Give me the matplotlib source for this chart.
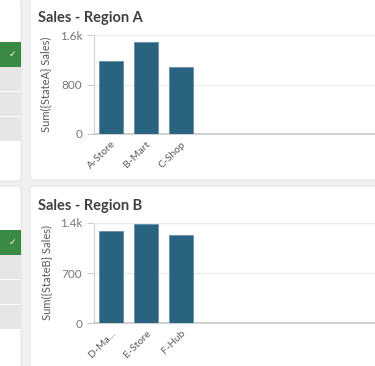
import matplotlib.pyplot as plt
from matplotlib.patches import FancyBboxPatch, Rectangle

# --- data ---
stores_a = ["A-Store", "B-Mart", "C-Shop"]
sales_a = [1180, 1490, 1085]
ticks_a = [0, 800, 1600]
ticklabels_a = ["0", "800", "1.6k"]

stores_b = ["D-Ma...", "E-Store", "F-Hub"]
sales_b = [1290, 1385, 1235]
ticks_b = [0, 700, 1400]
ticklabels_b = ["0", "700", "1.4k"]

W, H = 375, 366
BAR = "#29637f"
TXT = "#595959"

plt.rcParams['font.family'] = ['Lato', 'DejaVu Sans']

fig = plt.figure(figsize=(W / 100, H / 100), dpi=100)
fig.patch.set_facecolor("#f0f0f0")


def px_rect(x0, y0, x1, y1):
    # pixel box (top-left origin) -> figure fraction
    return [x0 / W, 1 - y1 / H, (x1 - x0) / W, (y1 - y0) / H]


def card(x0, y0, x1, y1):
    l, b, w, h = px_rect(x0, y0, x1, y1)
    fig.patches.append(FancyBboxPatch((l, b), w, h, boxstyle="round,pad=0,rounding_size=0.008",
                                      transform=fig.transFigure, facecolor="white",
                                      edgecolor="#e4e4e4", linewidth=0.8, zorder=0))


def listbox(y_green):
    l, b, w, h = px_rect(-2, y_green, 21, y_green + 25)
    fig.patches.append(Rectangle((l, b), w, h, transform=fig.transFigure,
                                 facecolor="#3a8a43", edgecolor="none", zorder=1))
    fig.text(12 / W, 1 - (y_green + 12.5) / H, "\u2713", color="white", fontsize=6.5,
             ha="center", va="center", family="DejaVu Sans", fontweight="bold")
    for k in range(3):
        l, b, w, h = px_rect(-2, y_green + 25 + k * 25, 21, y_green + 49 + k * 25)
        fig.patches.append(Rectangle((l, b), w, h, transform=fig.transFigure,
                                     facecolor="#e6e6e6", edgecolor="none", zorder=1))


def bar_panel(top, bottom, title, names, values, ticks, ticklabels, ylabel):
    card(-10, top - 35 - 2, 21, bottom + 47)
    card(30, top - 35 - 2, W + 10, bottom + 46)
    fig.text(38 / W, 1 - (top - 17) / H, title, fontsize=10.5, fontweight="bold",
             color="#404040", ha="left", va="center")
    ax = fig.add_axes(px_rect(93.5, top, W, bottom))
    ax.set_zorder(5)
    ax.patch.set_visible(False)
    ax.bar(range(len(names)), values, width=0.69, color=BAR, edgecolor="#5d8aa0",
           linewidth=0.5, zorder=3)
    ax.set_xlim(-0.5, (W - 93.5) / 35 - 0.5)
    ax.set_ylim(0, ticks[-1])
    ax.set_yticks(ticks)
    ax.set_yticklabels(ticklabels)
    ax.set_xticks(range(len(names)))
    ax.set_xticklabels(names, rotation=45, ha="right", rotation_mode="anchor")
    ax.tick_params(axis="x", length=0, pad=4, labelsize=7.5, labelcolor=TXT)
    ax.tick_params(axis="y", length=5, width=0.8, color="#cccccc", pad=3,
                   labelsize=8.5, labelcolor="#777777")
    ax.grid(axis="y", color="#ececec", linewidth=1, zorder=0)
    ax.spines["right"].set_visible(False)
    ax.spines["top"].set_color("#ececec")
    ax.spines["left"].set_color("#d0d0d0")
    ax.spines["bottom"].set_color("#c8c8c8")
    ax.spines["bottom"].set_linewidth(1.2)
    ax.set_ylabel(ylabel, fontsize=8, color=TXT, labelpad=6)
    return ax


bar_panel(35, 134, "Sales - Region A", stores_a, sales_a, ticks_a, ticklabels_a,
          "Sum({StateA} Sales)")
bar_panel(223, 323, "Sales - Region B", stores_b, sales_b, ticks_b, ticklabels_b,
          "Sum({StateB} Sales)")
listbox(42)
listbox(230)

fig.savefig("out.png", dpi=100)
